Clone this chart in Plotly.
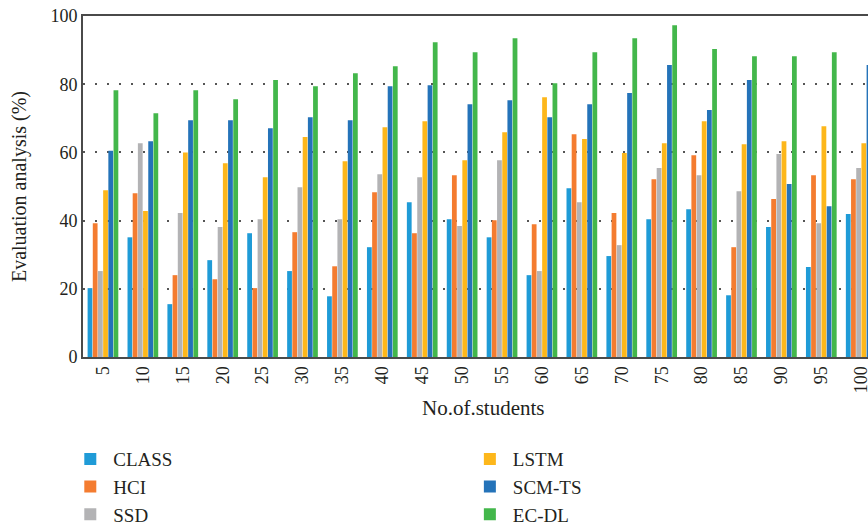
import plotly.graph_objects as go

categories = ["5", "10", "15", "20", "25", "30", "35", "40", "45", "50",
              "55", "60", "65", "70", "75", "80", "85", "90", "95", "100"]
series_names = ["CLASS", "HCI", "SSD", "LSTM", "SCM-TS", "EC-DL"]
class_vals = [20.2, 35.1, 15.5, 28.4, 36.3, 25.2, 17.8, 32.2, 45.4, 40.4,
              35.1, 24.0, 49.5, 29.6, 40.4, 43.3, 18.1, 38.1, 26.4, 41.9]
hci_vals = [39.2, 48.0, 24.0, 22.8, 20.2, 36.6, 26.6, 48.3, 36.3, 53.3,
            40.1, 38.9, 65.3, 42.2, 52.1, 59.2, 32.2, 46.3, 53.3, 52.1]
ssd_vals = [25.2, 62.7, 42.2, 38.1, 40.4, 49.8, 40.4, 53.6, 52.7, 38.4,
            57.7, 25.2, 45.4, 32.8, 55.4, 53.3, 48.6, 59.5, 39.2, 55.4]
lstm_vals = [48.9, 42.8, 60.0, 56.8, 52.7, 64.5, 57.4, 67.4, 69.1, 57.7,
             65.9, 76.2, 63.9, 59.8, 62.7, 69.1, 62.4, 63.3, 67.7, 62.7]
scm_vals = [60.5, 63.3, 69.4, 69.4, 67.1, 70.3, 69.4, 79.4, 79.7, 74.1,
            75.3, 70.3, 74.1, 77.4, 85.6, 72.4, 81.2, 50.7, 44.2, 85.6]
ecdl_vals = [78.2, 71.5, 78.2, 75.6, 81.2, 79.4, 83.2, 85.3, 92.3, 89.4,
             93.5, 80.3, 89.4, 93.5, 97.3, 90.3, 88.2, 88.2, 89.4, 88.5]
y_ticks = [0, 20, 40, 60, 80, 100]

colors = ["#1f9bd7", "#f47c30", "#b3b3b5", "#fdb71b", "#2473b9", "#43b74b"]
all_vals = [class_vals, hci_vals, ssd_vals, lstm_vals, scm_vals, ecdl_vals]
legend_ids = ["legend", "legend", "legend", "legend2", "legend2", "legend2"]

FONT = "Liberation Serif"
TXT = "#231f20"

fig = go.Figure()
for i, (name, vals) in enumerate(zip(series_names, all_vals)):
    fig.add_trace(go.Bar(
        x=categories, y=vals, name=name,
        marker=dict(color=colors[i], line=dict(width=0)),
        legend=legend_ids[i], legendgroup=name,
    ))

legend_common = dict(
    orientation="v", traceorder="grouped", tracegroupgap=0,
    font=dict(family=FONT, size=19, color=TXT),
    bgcolor="rgba(0,0,0,0)", xanchor="left", yanchor="top",
    itemwidth=36,
)

fig.update_layout(
    width=868, height=525,
    margin=dict(l=83, r=0, t=16, b=168, autoexpand=False),
    paper_bgcolor="white", plot_bgcolor="white",
    barmode="group", bargap=0.22, bargroupgap=0.08,
    font=dict(family=FONT, size=17, color=TXT),
    legend=dict(x=-0.02, y=-0.2435, **legend_common),
    legend2=dict(x=0.489, y=-0.2435, **legend_common),
    annotations=[dict(
        text="No.of.students", x=0.51, y=-0.108, xref="paper", yref="paper",
        xanchor="center", yanchor="top", showarrow=False,
        font=dict(family=FONT, size=21, color=TXT),
    )],
)

fig.update_xaxes(
    type="category", range=[-0.5, 19.17], automargin=False,
    tickangle=-90, ticks="", tickfont=dict(family=FONT, size=18, color=TXT),
    ticklabeloverflow="allow",
    showline=True, linecolor="#4a4a4a", linewidth=2, mirror=True,
    showgrid=False, zeroline=False,
)
fig.update_yaxes(
    range=[0, 100], tickvals=y_ticks, ticks="", automargin=False,
    tickfont=dict(family=FONT, size=18, color=TXT),
    ticklabeloverflow="allow",
    title=dict(text="Evaluation analysis (%)", font=dict(family=FONT, size=20, color=TXT), standoff=18),
    showline=True, linecolor="#4a4a4a", linewidth=2, mirror=False,
    showgrid=True, gridcolor="#555555", gridwidth=1.5, griddash="1.5px,10.5px",
    zeroline=False,
)

fig.write_html(
    "out.html",
    config={"displayModeBar": False},
    post_script="document.body.style.margin='0';document.body.style.overflow='hidden';",
)
